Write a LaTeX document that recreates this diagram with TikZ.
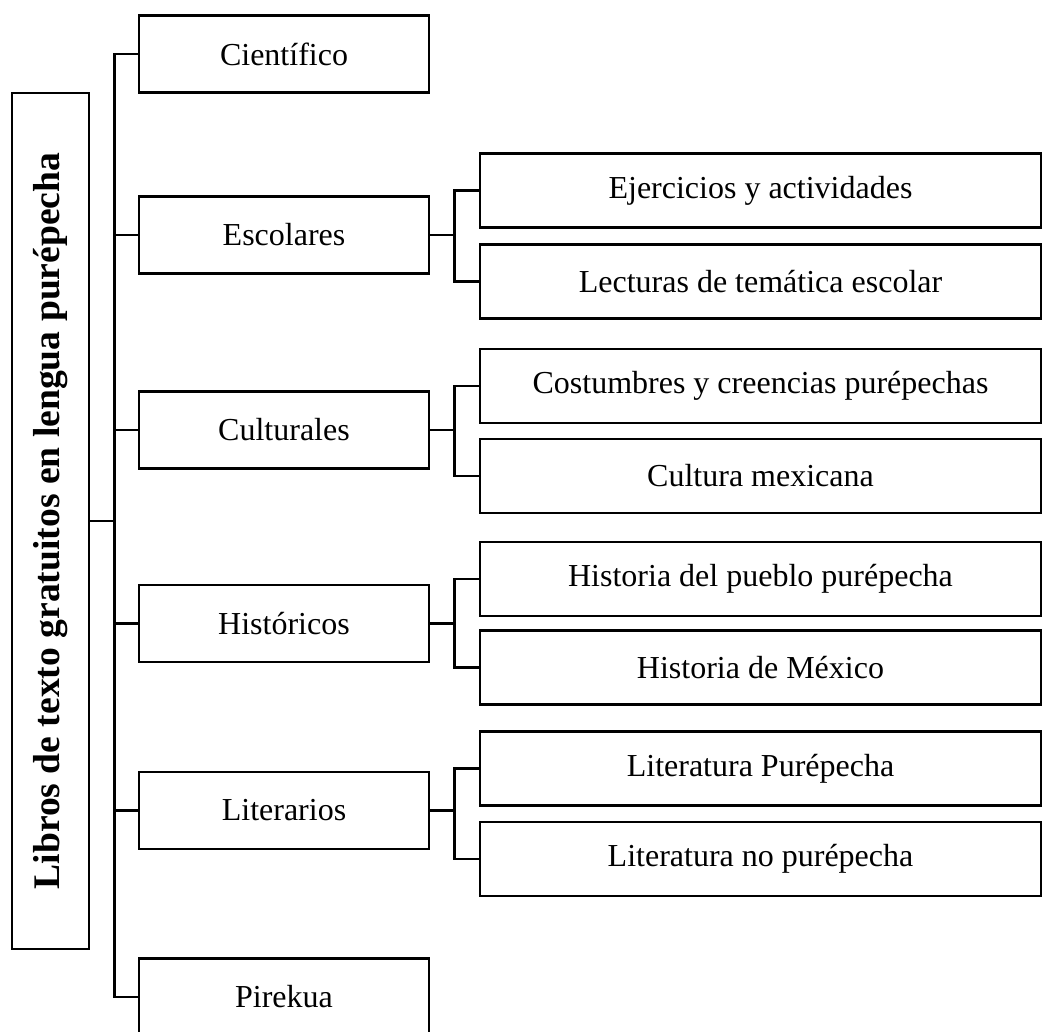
\documentclass[tikz,border=0pt]{standalone}
\usepackage{fontspec}
\setmainfont{Liberation Serif}
\usepackage{tikz}
\usetikzlibrary{calc}

\begin{document}
\begin{tikzpicture}[x=1pt,y=-1pt]%%libros
        \tikzstyle{cat} = [draw, line width=2.8pt, inner sep=0pt, minimum width=290pt, minimum height=77pt, font=\fontsize{32}{38}\selectfont]
        \tikzstyle{sub} = [draw, line width=2.8pt, inner sep=0pt, minimum width=561pt, minimum height=74pt, font=\fontsize{32}{38}\selectfont]
        \tikzstyle{link} = [line width=2.8pt]
        \path[use as bounding box, clip] (0,0) rectangle (1043,1031);
        \node [draw, line width=2.8pt, inner sep=0pt, rotate=90, minimum width=856pt, minimum height=77pt, font=\fontsize{37.6}{44}\selectfont\bfseries](root) at (50.5,521) {Libros de texto gratuitos en lengua purépecha};
        \foreach \n/\y/\t in {cien/54/Científico, esc/235/Escolares, cul/430/Culturales, his/623.5/Históricos, lit/810.5/Literarios, pir/997/Pirekua}
        {
                \node [cat](\n) at (284,\y) {\t};
                \draw [link] (root.south) -- ++(24,0) |- (\n.west);
        }
        \foreach \p/\ya/\ta/\yb/\tb in {esc/190.5/Ejercicios y actividades/281.5/Lecturas de temática escolar, cul/386/Costumbres y creencias purépechas/476/Cultura mexicana, his/579/Historia del pueblo purépecha/667.5/Historia de México, lit/768.5/Literatura Purépecha/859/Literatura no purépecha}
        {
                \node [sub](\p1) at (760.5,\ya) {\ta};
                \node [sub](\p2) at (760.5,\yb) {\tb};
                \draw [link] (\p.east) -- ++(24,0) |- (\p1.west);
                \draw [link] (\p.east) ++(24,0) |- (\p2.west);
        }
\end{tikzpicture}
\end{document}
